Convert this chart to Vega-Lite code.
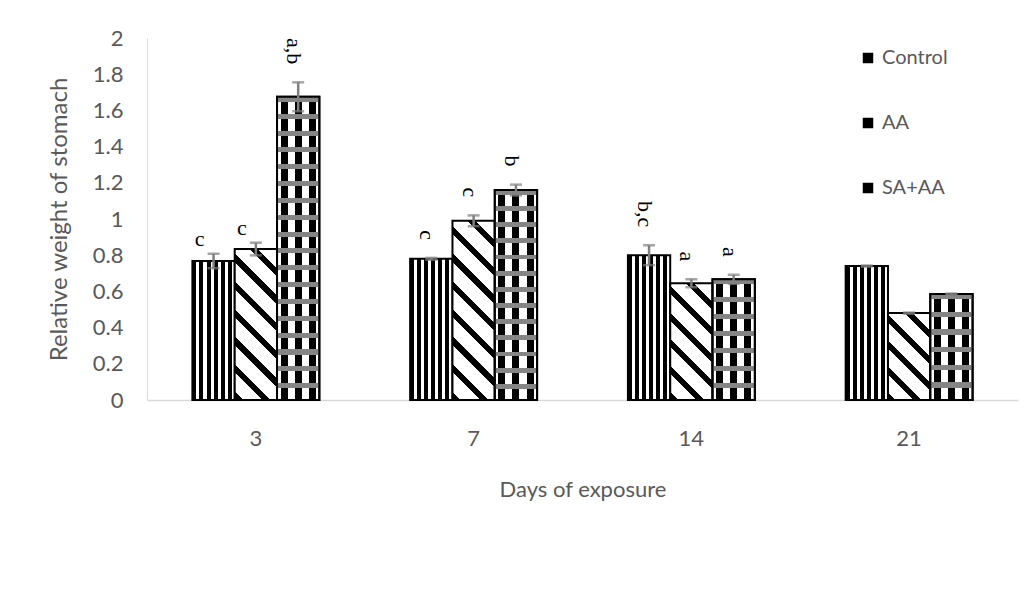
{
"$schema":"https://vega.github.io/schema/vega-lite/v6.json",
"width":871,"height":362,
"autosize":{"type":"none"},
"padding":{"left":147,"top":38,"right":16,"bottom":197},
"background":"white",
"config":{"view":{"stroke":null},
"axisY":{"values":[0,0.2,0.4,0.6,0.8,1,1.2,1.4,1.6,1.8,2],"format":".1~f","labelFont":"Lato","labelFontSize":22,"labelColor":"#595959","ticks":false,"grid":false,"domainColor":"#d9d9d9","domainWidth":1,"labelPadding":24,"titleFont":"Lato","titleFontSize":24,"titleColor":"#595959","titleFontWeight":"normal","titlePadding":21},
"axisX":{"labelAngle":0,"labelFont":"Lato","labelFontSize":22,"labelColor":"#595959","ticks":false,"grid":false,"domainColor":"#d9d9d9","domainWidth":1.5,"labelPadding":28,"titleFont":"Lato","titleFontSize":22,"titleColor":"#595959","titleFontWeight":"normal","titlePadding":30}},
"data":{"values":[
{"day":3,"group":"Control","value":0.768,"err":0.04,"sig":"c"},
{"day":3,"group":"AA","value":0.834,"err":0.035,"sig":"c"},
{"day":3,"group":"SA+AA","value":1.675,"err":0.08,"sig":"a,b"},
{"day":7,"group":"Control","value":0.78,"err":0.005,"sig":"c"},
{"day":7,"group":"AA","value":0.99,"err":0.03,"sig":"c"},
{"day":7,"group":"SA+AA","value":1.16,"err":0.03,"sig":"b"},
{"day":14,"group":"Control","value":0.8,"err":0.055,"sig":"b,c"},
{"day":14,"group":"AA","value":0.645,"err":0.022,"sig":"a"},
{"day":14,"group":"SA+AA","value":0.667,"err":0.025,"sig":"a"},
{"day":21,"group":"Control","value":0.74,"err":0.003,"sig":""},
{"day":21,"group":"AA","value":0.48,"err":0.003,"sig":""},
{"day":21,"group":"SA+AA","value":0.585,"err":0.003,"sig":""}
]},
"transform":[{"calculate":"datum.value - datum.err","as":"lo"},{"calculate":"datum.value + datum.err","as":"hi"}],
"encoding":{
"x":{"field":"day","type":"ordinal","sort":[3,7,14,21],"title":"Days of exposure","scale":{"paddingInner":0.417,"paddingOuter":0.2085}},
"xOffset":{"field":"group","type":"nominal","sort":["Control","AA","SA+AA"],"scale":{"paddingInner":0,"paddingOuter":0}},
"y":{"field":"value","type":"quantitative","scale":{"domain":[0,2]},"title":"Relative weight of stomach"}
},
"layer":[
{"transform":[{"filter":"datum.group=='Control'"}],
 "mark":{"type":"bar","stroke":"black","strokeWidth":2,"color":{"gradient":"linear","x1":0,"y1":0,"x2":1,"y2":0,"stops":[
 {"offset":0,"color":"#000"},{"offset":0.095,"color":"#000"},{"offset":0.095,"color":"#fff"},{"offset":0.1667,"color":"#fff"},
 {"offset":0.1667,"color":"#000"},{"offset":0.2617,"color":"#000"},{"offset":0.2617,"color":"#fff"},{"offset":0.3333,"color":"#fff"},
 {"offset":0.3333,"color":"#000"},{"offset":0.4283,"color":"#000"},{"offset":0.4283,"color":"#fff"},{"offset":0.5,"color":"#fff"},
 {"offset":0.5,"color":"#000"},{"offset":0.595,"color":"#000"},{"offset":0.595,"color":"#fff"},{"offset":0.6667,"color":"#fff"},
 {"offset":0.6667,"color":"#000"},{"offset":0.7617,"color":"#000"},{"offset":0.7617,"color":"#fff"},{"offset":0.8333,"color":"#fff"},
 {"offset":0.8333,"color":"#000"},{"offset":0.9283,"color":"#000"},{"offset":0.9283,"color":"#fff"},{"offset":1,"color":"#fff"}]}}},
{"transform":[{"filter":"datum.group=='AA' && datum.day==3"}],
 "mark":{"type":"bar","stroke":"black","strokeWidth":2,"color":{"gradient":"linear","x1":0,"y1":1,"x2":0.333,"y2":-0.187,"stops":[
 {"offset":0,"color":"#000"},{"offset":0.0429,"color":"#000"},{"offset":0.0429,"color":"#fff"},{"offset":0.1429,"color":"#fff"},
 {"offset":0.1429,"color":"#000"},{"offset":0.1857,"color":"#000"},{"offset":0.1857,"color":"#fff"},{"offset":0.2857,"color":"#fff"},
 {"offset":0.2857,"color":"#000"},{"offset":0.3286,"color":"#000"},{"offset":0.3286,"color":"#fff"},{"offset":0.4286,"color":"#fff"},
 {"offset":0.4286,"color":"#000"},{"offset":0.4714,"color":"#000"},{"offset":0.4714,"color":"#fff"},{"offset":0.5714,"color":"#fff"},
 {"offset":0.5714,"color":"#000"},{"offset":0.6143,"color":"#000"},{"offset":0.6143,"color":"#fff"},{"offset":0.7143,"color":"#fff"},
 {"offset":0.7143,"color":"#000"},{"offset":0.7571,"color":"#000"},{"offset":0.7571,"color":"#fff"},{"offset":0.8571,"color":"#fff"},
 {"offset":0.8571,"color":"#000"},{"offset":0.9,"color":"#000"},{"offset":0.9,"color":"#fff"},{"offset":1,"color":"#fff"}]}}},
{"transform":[{"filter":"datum.group=='AA' && datum.day==7"}],
 "mark":{"type":"bar","stroke":"black","strokeWidth":2,"color":{"gradient":"linear","x1":0,"y1":1,"x2":0.277,"y2":-0.171,"stops":[
 {"offset":0,"color":"#000"},{"offset":0.0375,"color":"#000"},{"offset":0.0375,"color":"#fff"},{"offset":0.125,"color":"#fff"},
 {"offset":0.125,"color":"#000"},{"offset":0.1625,"color":"#000"},{"offset":0.1625,"color":"#fff"},{"offset":0.25,"color":"#fff"},
 {"offset":0.25,"color":"#000"},{"offset":0.2875,"color":"#000"},{"offset":0.2875,"color":"#fff"},{"offset":0.375,"color":"#fff"},
 {"offset":0.375,"color":"#000"},{"offset":0.4125,"color":"#000"},{"offset":0.4125,"color":"#fff"},{"offset":0.5,"color":"#fff"},
 {"offset":0.5,"color":"#000"},{"offset":0.5375,"color":"#000"},{"offset":0.5375,"color":"#fff"},{"offset":0.625,"color":"#fff"},
 {"offset":0.625,"color":"#000"},{"offset":0.6625,"color":"#000"},{"offset":0.6625,"color":"#fff"},{"offset":0.75,"color":"#fff"},
 {"offset":0.75,"color":"#000"},{"offset":0.7875,"color":"#000"},{"offset":0.7875,"color":"#fff"},{"offset":0.875,"color":"#fff"},
 {"offset":0.875,"color":"#000"},{"offset":0.9125,"color":"#000"},{"offset":0.9125,"color":"#fff"},{"offset":1,"color":"#fff"}]}}},
{"transform":[{"filter":"datum.group=='AA' && datum.day==14"}],
 "mark":{"type":"bar","stroke":"black","strokeWidth":2,"color":{"gradient":"linear","x1":0,"y1":1,"x2":0.435,"y2":-0.204,"stops":[
 {"offset":0,"color":"#000"},{"offset":0.05,"color":"#000"},{"offset":0.05,"color":"#fff"},{"offset":0.1667,"color":"#fff"},
 {"offset":0.1667,"color":"#000"},{"offset":0.2167,"color":"#000"},{"offset":0.2167,"color":"#fff"},{"offset":0.3333,"color":"#fff"},
 {"offset":0.3333,"color":"#000"},{"offset":0.3833,"color":"#000"},{"offset":0.3833,"color":"#fff"},{"offset":0.5,"color":"#fff"},
 {"offset":0.5,"color":"#000"},{"offset":0.55,"color":"#000"},{"offset":0.55,"color":"#fff"},{"offset":0.6667,"color":"#fff"},
 {"offset":0.6667,"color":"#000"},{"offset":0.7167,"color":"#000"},{"offset":0.7167,"color":"#fff"},{"offset":0.8333,"color":"#fff"},
 {"offset":0.8333,"color":"#000"},{"offset":0.8833,"color":"#000"},{"offset":0.8833,"color":"#fff"},{"offset":1,"color":"#fff"}]}}},
{"transform":[{"filter":"datum.group=='AA' && datum.day==21"}],
 "mark":{"type":"bar","stroke":"black","strokeWidth":2,"color":{"gradient":"linear","x1":0,"y1":1,"x2":0.585,"y2":-0.202,"stops":[
 {"offset":0,"color":"#000"},{"offset":0.06,"color":"#000"},{"offset":0.06,"color":"#fff"},{"offset":0.2,"color":"#fff"},
 {"offset":0.2,"color":"#000"},{"offset":0.26,"color":"#000"},{"offset":0.26,"color":"#fff"},{"offset":0.4,"color":"#fff"},
 {"offset":0.4,"color":"#000"},{"offset":0.46,"color":"#000"},{"offset":0.46,"color":"#fff"},{"offset":0.6,"color":"#fff"},
 {"offset":0.6,"color":"#000"},{"offset":0.66,"color":"#000"},{"offset":0.66,"color":"#fff"},{"offset":0.8,"color":"#fff"},
 {"offset":0.8,"color":"#000"},{"offset":0.86,"color":"#000"},{"offset":0.86,"color":"#fff"},{"offset":1,"color":"#fff"}]}}},
{"transform":[{"filter":"datum.group=='SA+AA'"}],
 "mark":{"type":"bar","stroke":"black","strokeWidth":2,"color":{"gradient":"linear","x1":0,"y1":0,"x2":1,"y2":0,"stops":[
 {"offset":0,"color":"#fff"},{"offset":0.0833,"color":"#fff"},{"offset":0.0833,"color":"#000"},{"offset":0.25,"color":"#000"},
 {"offset":0.25,"color":"#fff"},{"offset":0.4167,"color":"#fff"},{"offset":0.4167,"color":"#000"},{"offset":0.5833,"color":"#000"},
 {"offset":0.5833,"color":"#fff"},{"offset":0.75,"color":"#fff"},{"offset":0.75,"color":"#000"},{"offset":0.9167,"color":"#000"},
 {"offset":0.9167,"color":"#fff"},{"offset":1,"color":"#fff"}]}}},
{"transform":[{"filter":"datum.group=='SA+AA' && datum.day==3"}],
 "mark":{"type":"bar","stroke":"black","strokeWidth":2,"color":{"gradient":"linear","x1":0,"y1":0,"x2":0,"y2":1,"stops":[
 {"offset":0,"color":"#858585"},{"offset":0.0167,"color":"#858585"},{"offset":0.0167,"color":"rgba(255,255,255,0)"},{"offset":0.0556,"color":"rgba(255,255,255,0)"},
 {"offset":0.0556,"color":"#858585"},{"offset":0.0722,"color":"#858585"},{"offset":0.0722,"color":"rgba(255,255,255,0)"},{"offset":0.1111,"color":"rgba(255,255,255,0)"},
 {"offset":0.1111,"color":"#858585"},{"offset":0.1278,"color":"#858585"},{"offset":0.1278,"color":"rgba(255,255,255,0)"},{"offset":0.1667,"color":"rgba(255,255,255,0)"},
 {"offset":0.1667,"color":"#858585"},{"offset":0.1833,"color":"#858585"},{"offset":0.1833,"color":"rgba(255,255,255,0)"},{"offset":0.2222,"color":"rgba(255,255,255,0)"},
 {"offset":0.2222,"color":"#858585"},{"offset":0.2389,"color":"#858585"},{"offset":0.2389,"color":"rgba(255,255,255,0)"},{"offset":0.2778,"color":"rgba(255,255,255,0)"},
 {"offset":0.2778,"color":"#858585"},{"offset":0.2944,"color":"#858585"},{"offset":0.2944,"color":"rgba(255,255,255,0)"},{"offset":0.3333,"color":"rgba(255,255,255,0)"},
 {"offset":0.3333,"color":"#858585"},{"offset":0.35,"color":"#858585"},{"offset":0.35,"color":"rgba(255,255,255,0)"},{"offset":0.3889,"color":"rgba(255,255,255,0)"},
 {"offset":0.3889,"color":"#858585"},{"offset":0.4056,"color":"#858585"},{"offset":0.4056,"color":"rgba(255,255,255,0)"},{"offset":0.4444,"color":"rgba(255,255,255,0)"},
 {"offset":0.4444,"color":"#858585"},{"offset":0.4611,"color":"#858585"},{"offset":0.4611,"color":"rgba(255,255,255,0)"},{"offset":0.5,"color":"rgba(255,255,255,0)"},
 {"offset":0.5,"color":"#858585"},{"offset":0.5167,"color":"#858585"},{"offset":0.5167,"color":"rgba(255,255,255,0)"},{"offset":0.5556,"color":"rgba(255,255,255,0)"},
 {"offset":0.5556,"color":"#858585"},{"offset":0.5722,"color":"#858585"},{"offset":0.5722,"color":"rgba(255,255,255,0)"},{"offset":0.6111,"color":"rgba(255,255,255,0)"},
 {"offset":0.6111,"color":"#858585"},{"offset":0.6278,"color":"#858585"},{"offset":0.6278,"color":"rgba(255,255,255,0)"},{"offset":0.6667,"color":"rgba(255,255,255,0)"},
 {"offset":0.6667,"color":"#858585"},{"offset":0.6833,"color":"#858585"},{"offset":0.6833,"color":"rgba(255,255,255,0)"},{"offset":0.7222,"color":"rgba(255,255,255,0)"},
 {"offset":0.7222,"color":"#858585"},{"offset":0.7389,"color":"#858585"},{"offset":0.7389,"color":"rgba(255,255,255,0)"},{"offset":0.7778,"color":"rgba(255,255,255,0)"},
 {"offset":0.7778,"color":"#858585"},{"offset":0.7944,"color":"#858585"},{"offset":0.7944,"color":"rgba(255,255,255,0)"},{"offset":0.8333,"color":"rgba(255,255,255,0)"},
 {"offset":0.8333,"color":"#858585"},{"offset":0.85,"color":"#858585"},{"offset":0.85,"color":"rgba(255,255,255,0)"},{"offset":0.8889,"color":"rgba(255,255,255,0)"},
 {"offset":0.8889,"color":"#858585"},{"offset":0.9056,"color":"#858585"},{"offset":0.9056,"color":"rgba(255,255,255,0)"},{"offset":0.9444,"color":"rgba(255,255,255,0)"},
 {"offset":0.9444,"color":"#858585"},{"offset":0.9611,"color":"#858585"},{"offset":0.9611,"color":"rgba(255,255,255,0)"},{"offset":1,"color":"rgba(255,255,255,0)"}]}}},
{"transform":[{"filter":"datum.group=='SA+AA' && datum.day==7"}],
 "mark":{"type":"bar","stroke":"black","strokeWidth":2,"color":{"gradient":"linear","x1":0,"y1":0,"x2":0,"y2":1,"stops":[
 {"offset":0,"color":"#858585"},{"offset":0.0231,"color":"#858585"},{"offset":0.0231,"color":"rgba(255,255,255,0)"},{"offset":0.0769,"color":"rgba(255,255,255,0)"},
 {"offset":0.0769,"color":"#858585"},{"offset":0.1,"color":"#858585"},{"offset":0.1,"color":"rgba(255,255,255,0)"},{"offset":0.1538,"color":"rgba(255,255,255,0)"},
 {"offset":0.1538,"color":"#858585"},{"offset":0.1769,"color":"#858585"},{"offset":0.1769,"color":"rgba(255,255,255,0)"},{"offset":0.2308,"color":"rgba(255,255,255,0)"},
 {"offset":0.2308,"color":"#858585"},{"offset":0.2538,"color":"#858585"},{"offset":0.2538,"color":"rgba(255,255,255,0)"},{"offset":0.3077,"color":"rgba(255,255,255,0)"},
 {"offset":0.3077,"color":"#858585"},{"offset":0.3308,"color":"#858585"},{"offset":0.3308,"color":"rgba(255,255,255,0)"},{"offset":0.3846,"color":"rgba(255,255,255,0)"},
 {"offset":0.3846,"color":"#858585"},{"offset":0.4077,"color":"#858585"},{"offset":0.4077,"color":"rgba(255,255,255,0)"},{"offset":0.4615,"color":"rgba(255,255,255,0)"},
 {"offset":0.4615,"color":"#858585"},{"offset":0.4846,"color":"#858585"},{"offset":0.4846,"color":"rgba(255,255,255,0)"},{"offset":0.5385,"color":"rgba(255,255,255,0)"},
 {"offset":0.5385,"color":"#858585"},{"offset":0.5615,"color":"#858585"},{"offset":0.5615,"color":"rgba(255,255,255,0)"},{"offset":0.6154,"color":"rgba(255,255,255,0)"},
 {"offset":0.6154,"color":"#858585"},{"offset":0.6385,"color":"#858585"},{"offset":0.6385,"color":"rgba(255,255,255,0)"},{"offset":0.6923,"color":"rgba(255,255,255,0)"},
 {"offset":0.6923,"color":"#858585"},{"offset":0.7154,"color":"#858585"},{"offset":0.7154,"color":"rgba(255,255,255,0)"},{"offset":0.7692,"color":"rgba(255,255,255,0)"},
 {"offset":0.7692,"color":"#858585"},{"offset":0.7923,"color":"#858585"},{"offset":0.7923,"color":"rgba(255,255,255,0)"},{"offset":0.8462,"color":"rgba(255,255,255,0)"},
 {"offset":0.8462,"color":"#858585"},{"offset":0.8692,"color":"#858585"},{"offset":0.8692,"color":"rgba(255,255,255,0)"},{"offset":0.9231,"color":"rgba(255,255,255,0)"},
 {"offset":0.9231,"color":"#858585"},{"offset":0.9462,"color":"#858585"},{"offset":0.9462,"color":"rgba(255,255,255,0)"},{"offset":1,"color":"rgba(255,255,255,0)"}]}}},
{"transform":[{"filter":"datum.group=='SA+AA' && datum.day==14"}],
 "mark":{"type":"bar","stroke":"black","strokeWidth":2,"color":{"gradient":"linear","x1":0,"y1":0,"x2":0,"y2":1,"stops":[
 {"offset":0,"color":"#858585"},{"offset":0.0429,"color":"#858585"},{"offset":0.0429,"color":"rgba(255,255,255,0)"},{"offset":0.1429,"color":"rgba(255,255,255,0)"},
 {"offset":0.1429,"color":"#858585"},{"offset":0.1857,"color":"#858585"},{"offset":0.1857,"color":"rgba(255,255,255,0)"},{"offset":0.2857,"color":"rgba(255,255,255,0)"},
 {"offset":0.2857,"color":"#858585"},{"offset":0.3286,"color":"#858585"},{"offset":0.3286,"color":"rgba(255,255,255,0)"},{"offset":0.4286,"color":"rgba(255,255,255,0)"},
 {"offset":0.4286,"color":"#858585"},{"offset":0.4714,"color":"#858585"},{"offset":0.4714,"color":"rgba(255,255,255,0)"},{"offset":0.5714,"color":"rgba(255,255,255,0)"},
 {"offset":0.5714,"color":"#858585"},{"offset":0.6143,"color":"#858585"},{"offset":0.6143,"color":"rgba(255,255,255,0)"},{"offset":0.7143,"color":"rgba(255,255,255,0)"},
 {"offset":0.7143,"color":"#858585"},{"offset":0.7571,"color":"#858585"},{"offset":0.7571,"color":"rgba(255,255,255,0)"},{"offset":0.8571,"color":"rgba(255,255,255,0)"},
 {"offset":0.8571,"color":"#858585"},{"offset":0.9,"color":"#858585"},{"offset":0.9,"color":"rgba(255,255,255,0)"},{"offset":1,"color":"rgba(255,255,255,0)"}]}}},
{"transform":[{"filter":"datum.group=='SA+AA' && datum.day==21"}],
 "mark":{"type":"bar","stroke":"black","strokeWidth":2,"color":{"gradient":"linear","x1":0,"y1":0,"x2":0,"y2":1,"stops":[
 {"offset":0,"color":"#858585"},{"offset":0.05,"color":"#858585"},{"offset":0.05,"color":"rgba(255,255,255,0)"},{"offset":0.1667,"color":"rgba(255,255,255,0)"},
 {"offset":0.1667,"color":"#858585"},{"offset":0.2167,"color":"#858585"},{"offset":0.2167,"color":"rgba(255,255,255,0)"},{"offset":0.3333,"color":"rgba(255,255,255,0)"},
 {"offset":0.3333,"color":"#858585"},{"offset":0.3833,"color":"#858585"},{"offset":0.3833,"color":"rgba(255,255,255,0)"},{"offset":0.5,"color":"rgba(255,255,255,0)"},
 {"offset":0.5,"color":"#858585"},{"offset":0.55,"color":"#858585"},{"offset":0.55,"color":"rgba(255,255,255,0)"},{"offset":0.6667,"color":"rgba(255,255,255,0)"},
 {"offset":0.6667,"color":"#858585"},{"offset":0.7167,"color":"#858585"},{"offset":0.7167,"color":"rgba(255,255,255,0)"},{"offset":0.8333,"color":"rgba(255,255,255,0)"},
 {"offset":0.8333,"color":"#858585"},{"offset":0.8833,"color":"#858585"},{"offset":0.8833,"color":"rgba(255,255,255,0)"},{"offset":1,"color":"rgba(255,255,255,0)"}]}}},
{"mark":{"type":"rule","color":"#7f7f7f","strokeWidth":2.5},
 "encoding":{"y":{"field":"lo","type":"quantitative","title":"Relative weight of stomach"},"y2":{"field":"hi"}}},
{"mark":{"type":"tick","color":"#7f7f7f","thickness":2.5,"size":12},
 "encoding":{"y":{"field":"lo","type":"quantitative","title":"Relative weight of stomach"}}},
{"mark":{"type":"tick","color":"#7f7f7f","thickness":2.5,"size":12},
 "encoding":{"y":{"field":"hi","type":"quantitative","title":"Relative weight of stomach"}}},
{"transform":[{"filter":"datum.sig != '' && !(datum.day == 3 && datum.group != 'SA+AA')"}],
 "mark":{"type":"text","align":"right","baseline":"middle","dx":-18,"dy":4,"font":"Liberation Serif","fontSize":22,"color":"black"},
 "encoding":{"y":{"field":"hi","type":"quantitative","title":"Relative weight of stomach"},"text":{"field":"sig"},"angle":{"value":90}}},
{"transform":[{"filter":"datum.day == 3 && datum.group != 'SA+AA'"}],
 "mark":{"type":"text","align":"center","baseline":"alphabetic","dx":-14,"dy":-8,"font":"Liberation Serif","fontSize":22,"color":"black"},
 "encoding":{"y":{"field":"hi","type":"quantitative","title":"Relative weight of stomach"},"text":{"field":"sig"}}},
{"mark":{"type":"square","size":0,"opacity":0},
 "encoding":{"color":{"field":"group","type":"nominal","sort":["Control","AA","SA+AA"],"scale":{"range":["#000","#000","#000"]},
  "legend":{"orient":"none","legendX":711,"legendY":10,"title":null,"symbolType":"square","symbolSize":110,"symbolOpacity":1,"symbolFillColor":"#000","symbolStrokeWidth":0,"rowPadding":45,"labelFontSize":20,"labelColor":"#595959","labelFont":"Lato","labelOffset":4,"padding":0}}}}
]
}
